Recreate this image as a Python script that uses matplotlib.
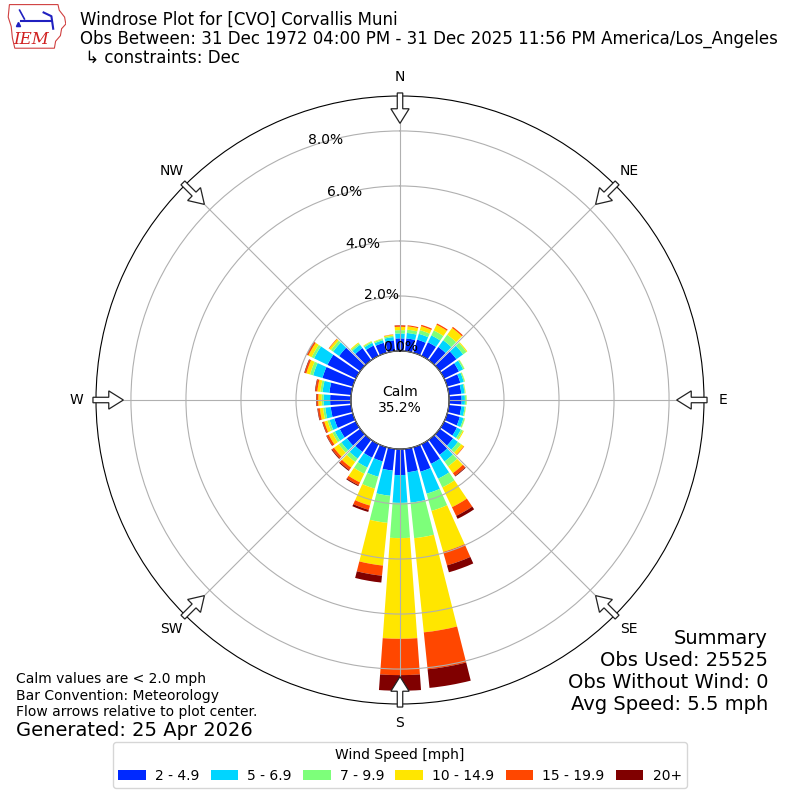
import numpy as np
import matplotlib
matplotlib.use("Agg")
import matplotlib.pyplot as plt
from matplotlib.patches import Circle, FancyArrow, Polygon, Patch
from matplotlib.ticker import FormatStrFormatter

# ---------------- data ----------------
directions = list(range(0, 360, 10))
speed_labels = ["2 - 4.9", "5 - 6.9", "7 - 9.9", "10 - 14.9", "15 - 19.9", "20+"]
compass_labels = ["N", "NE", "E", "SE", "S", "SW", "W", "NW"]
rticks = [0, 2, 4, 6, 8]
summary_lines = ["Summary", "Obs Used: 25525", "Obs Without Wind: 0", "Avg Speed: 5.5 mph"]

# percent of observations per direction bin, per speed bin
spd_2_5 = [0.46, 0.47, 0.50, 0.55, 0.60, 0.75, 0.60, 0.50, 0.46, 0.46, 0.46, 0.48,
           0.52, 0.60, 0.68, 0.80, 0.93, 0.86, 0.95, 0.80, 0.54, 0.55, 0.55, 0.60,
           0.65, 0.70, 0.75, 0.76, 0.80, 1.15, 1.15, 0.95, 0.55, 0.42, 0.38, 0.40]
spd_5_7 = [0.18, 0.20, 0.22, 0.28, 0.30, 0.30, 0.17, 0.13, 0.12, 0.12, 0.12, 0.14,
           0.16, 0.22, 0.30, 0.60, 0.83, 1.11, 1.01, 0.92, 0.58, 0.40, 0.30, 0.25,
           0.20, 0.18, 0.20, 0.24, 0.25, 0.35, 0.54, 0.27, 0.15, 0.11, 0.10, 0.12]
spd_7_10 = [0.12, 0.12, 0.14, 0.20, 0.25, 0.15, 0.05, 0.04, 0.03, 0.06, 0.04, 0.05,
            0.08, 0.14, 0.22, 0.35, 0.65, 1.30, 1.28, 0.99, 0.45, 0.25, 0.15, 0.12,
            0.10, 0.08, 0.08, 0.07, 0.08, 0.12, 0.10, 0.10, 0.06, 0.05, 0.05, 0.05]
spd_10_15 = [0.12, 0.12, 0.15, 0.23, 0.30, 0.04, 0.01, 0.01, 0.01, 0.01, 0.01, 0.01,
             0.04, 0.12, 0.30, 0.80, 1.55, 3.44, 3.66, 1.56, 0.64, 0.35, 0.25, 0.21,
             0.15, 0.12, 0.12, 0.12, 0.11, 0.14, 0.13, 0.08, 0.04, 0.02, 0.02, 0.04]
spd_15_20 = [0.05, 0.04, 0.05, 0.05, 0.05, 0.00, 0.00, 0.00, 0.00, 0.00, 0.00, 0.00,
             0.00, 0.02, 0.12, 0.35, 0.51, 1.35, 1.32, 0.37, 0.16, 0.11, 0.11, 0.09,
             0.08, 0.06, 0.07, 0.06, 0.07, 0.06, 0.06, 0.02, 0.00, 0.00, 0.00, 0.01]
spd_20p = [0.01, 0.00, 0.00, 0.00, 0.00, 0.00, 0.00, 0.00, 0.00, 0.00, 0.00, 0.00,
           0.00, 0.00, 0.03, 0.12, 0.26, 0.68, 0.57, 0.25, 0.08, 0.04, 0.04, 0.03,
           0.02, 0.02, 0.02, 0.02, 0.02, 0.02, 0.02, 0.00, 0.00, 0.00, 0.00, 0.00]
calm_pct = 35.2

series = [spd_2_5, spd_5_7, spd_7_10, spd_10_15, spd_15_20, spd_20p]
colors = [plt.cm.jet(i / 6.0) for i in range(1, 7)]

# ---------------- figure ----------------
fig = plt.figure(figsize=(8, 8), dpi=100)
ax = fig.add_axes([0.12, 0.12, 0.76, 0.76], projection="polar")
ax.set_theta_zero_location("N")
ax.set_theta_direction(-1)

theta = np.deg2rad(directions)
width = np.deg2rad(10) * 0.83
bottom = np.zeros(len(directions))
handles = []
for vals, col, lab in zip(series, colors, speed_labels):
    v = np.array(vals)
    ax.bar(theta, v, width=width, bottom=bottom, color=col, linewidth=0, zorder=1)
    bottom += v
    handles.append(Patch(facecolor=col, label=lab))

ax.set_ylim(0, 9.27)
ax.set_rorigin(-1.78)
ax.set_yticks(rticks)
ax.yaxis.set_major_formatter(FormatStrFormatter("%.1f%%"))
ax.set_rlabel_position(340)
ax.set_thetagrids(range(0, 360, 45), compass_labels)
ax.tick_params(axis="x", pad=3.5, labelsize=10)
ax.tick_params(axis="y", labelsize=10)
ax.grid(True, color="#b0b0b0", linewidth=0.8)
ax.yaxis.set_zorder(4)

# calm circle
ax.add_patch(Circle((0.5, 0.5), 49 / 608, transform=ax.transAxes,
                    facecolor="white", edgecolor="black", linewidth=1.0, zorder=3))
ax.text(0.5, 0.5, f"Calm\n{calm_pct:.1f}%", transform=ax.transAxes,
        ha="center", va="center", fontsize=10, zorder=4)

# flow arrows
for d in range(0, 360, 45):
    a = np.deg2rad(d)
    ux, uy = np.sin(a), np.cos(a)
    r0, r1 = 0.505, 0.455
    ax.add_patch(FancyArrow(0.5 + r0 * ux, 0.5 + r0 * uy,
                            (r1 - r0) * ux, (r1 - r0) * uy,
                            width=0.009, head_width=0.03, head_length=0.024,
                            length_includes_head=True, transform=ax.transAxes,
                            facecolor="white", edgecolor="#222222", linewidth=0.9,
                            clip_on=False, zorder=6))

# titles
fig.text(0.1, 0.986,
         "Windrose Plot for [CVO] Corvallis Muni\n"
         "Obs Between: 31 Dec 1972 04:00 PM - 31 Dec 2025 11:56 PM America/Los_Angeles\n"
         " \u21b3 constraints: Dec",
         ha="left", va="top", fontsize=12, linespacing=1.03)

fig.text(0.02, 0.1306,
         "Calm values are < 2.0 mph\nBar Convention: Meteorology\n"
         "Flow arrows relative to plot center.",
         ha="left", va="center", fontsize=10)
fig.text(0.02, 0.0875, "Generated: 25 Apr 2026", ha="left", va="center", fontsize=14)

for i, line in enumerate(summary_lines):
    fig.text(0.96, 0.2013 - i * 0.0275, line, ha="right", va="center", fontsize=14)

fig.legend(handles=handles, loc="lower center", bbox_to_anchor=(0.5, 0.006),
           ncol=6, title="Wind Speed [mph]", fontsize=10, title_fontsize=10,
           columnspacing=0.8, handletextpad=0.65)

# logo
lax = fig.add_axes([0.008, 0.938, 0.075, 0.058])
lax.set_xlim(0, 1)
lax.set_ylim(0, 1)
lax.axis("off")
iowa = [(0.05, 0.97), (0.86, 0.97), (0.88, 0.85), (0.97, 0.7), (0.99, 0.55),
        (0.92, 0.45), (0.9, 0.3), (0.82, 0.18), (0.8, 0.03), (0.14, 0.03),
        (0.1, 0.25), (0.08, 0.5), (0.03, 0.7), (0.05, 0.97)]
lax.add_patch(Polygon(iowa, closed=True, fill=False, edgecolor="#d04040", linewidth=0.8))
lax.plot([0.25, 0.75], [0.62, 0.62], color="#2020c0", linewidth=1.5)
lax.plot([0.22, 0.3], [0.85, 0.66], color="#2020c0", linewidth=1.2)
lax.plot([0.62, 0.75, 0.78], [0.8, 0.72, 0.45], color="#2020c0", linewidth=1.5)
lax.plot([0.2], [0.55], marker="^", color="#2020c0", markersize=3)
lax.text(0.42, 0.22, "IEM", color="#d02020", fontsize=12, fontstyle="italic",
         family="DejaVu Serif", ha="center", va="center")

fig.savefig("out.png", dpi=100)
